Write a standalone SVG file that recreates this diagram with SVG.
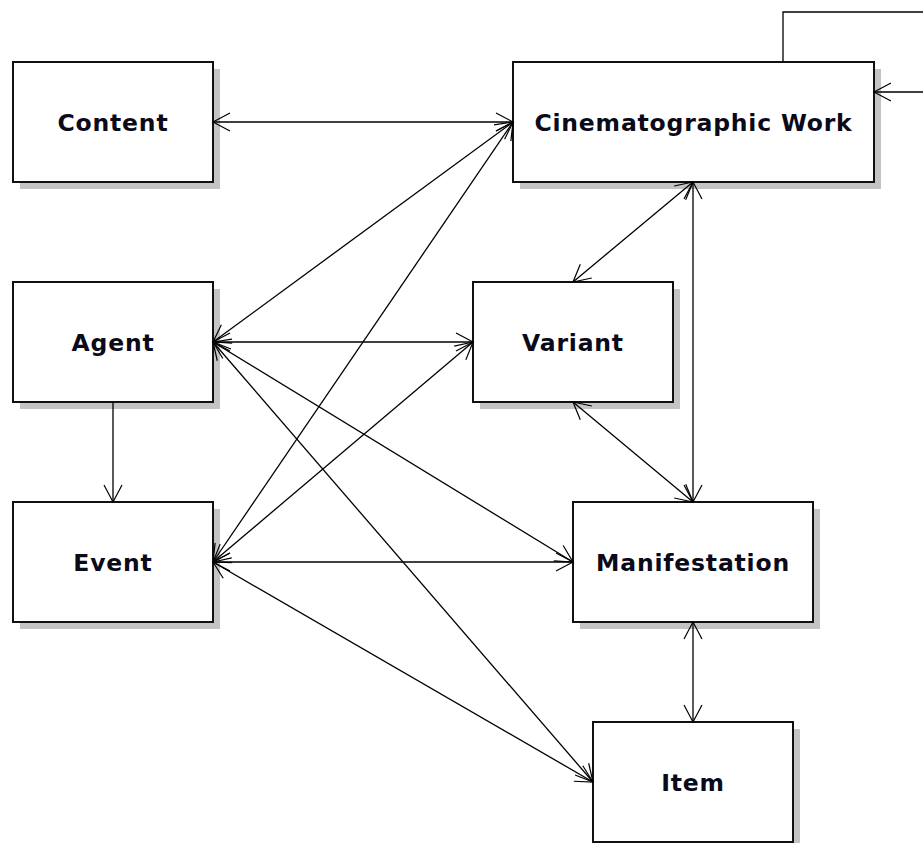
<svg xmlns="http://www.w3.org/2000/svg" width="923" height="843" viewBox="0 0 923 843">
<style>
.sh{fill:#c4c4c4}
.bx{fill:#fff;stroke:#111;stroke-width:2}
.t{font-family:"DejaVu Sans",Verdana,sans-serif;font-weight:bold;font-size:23.5px;letter-spacing:0.8px;fill:#0a0a1a;text-anchor:middle}
.c{fill:none;stroke:#000;stroke-width:1.3}
.b{marker-start:url(#a);marker-end:url(#a)}
.e{marker-end:url(#a)}
</style>
<defs>
<marker id="a" markerUnits="userSpaceOnUse" viewBox="-20 -11 22 22" refX="0" refY="0" markerWidth="22" markerHeight="22" orient="auto-start-reverse">
<path d="M-17,-9 L0,0 L-17,9" fill="none" stroke="#000" stroke-width="1.2"/>
</marker>
</defs>
<rect width="923" height="843" fill="#fff"/>
<g id="content"><rect class="sh" x="20" y="69" width="200" height="120"/><rect class="bx" x="13" y="62" width="200" height="120"/><text class="t" x="113" y="131">Content</text></g>
<g id="cinematographic-work"><rect class="sh" x="520" y="69" width="361" height="120"/><rect class="bx" x="513" y="62" width="361" height="120"/><text class="t" x="693.5" y="131">Cinematographic Work</text></g>
<g id="agent"><rect class="sh" x="20" y="289" width="200" height="120"/><rect class="bx" x="13" y="282" width="200" height="120"/><text class="t" x="113" y="351">Agent</text></g>
<g id="variant"><rect class="sh" x="480" y="289" width="200" height="120"/><rect class="bx" x="473" y="282" width="200" height="120"/><text class="t" x="573" y="351">Variant</text></g>
<g id="event"><rect class="sh" x="20" y="509" width="200" height="120"/><rect class="bx" x="13" y="502" width="200" height="120"/><text class="t" x="113" y="571">Event</text></g>
<g id="manifestation"><rect class="sh" x="580" y="509" width="240" height="120"/><rect class="bx" x="573" y="502" width="240" height="120"/><text class="t" x="693" y="571">Manifestation</text></g>
<g id="item"><rect class="sh" x="600" y="729" width="200" height="120"/><rect class="bx" x="593" y="722" width="200" height="120"/><text class="t" x="693" y="791">Item</text></g>
<g id="connectors">
<line class="c b" x1="213" y1="122" x2="513" y2="122"/>
<line class="c b" x1="213" y1="342" x2="513" y2="122"/>
<line class="c b" x1="213" y1="562" x2="513" y2="122"/>
<line class="c b" x1="213" y1="342" x2="473" y2="342"/>
<line class="c b" x1="213" y1="562" x2="473" y2="342"/>
<line class="c b" x1="213" y1="342" x2="573" y2="562"/>
<line class="c b" x1="213" y1="562" x2="573" y2="562"/>
<line class="c b" x1="213" y1="342" x2="593" y2="782"/>
<line class="c b" x1="213" y1="562" x2="593" y2="782"/>
<line class="c e" x1="113" y1="402" x2="113" y2="502"/>
<line class="c b" x1="693" y1="182" x2="573" y2="282"/>
<line class="c b" x1="693" y1="182" x2="693" y2="502"/>
<line class="c b" x1="573" y1="402" x2="693" y2="502"/>
<line class="c b" x1="693" y1="622" x2="693" y2="722"/>
<path class="c e" d="M783,62 V12 H935 V92 H874"/>
</g>
</svg>
